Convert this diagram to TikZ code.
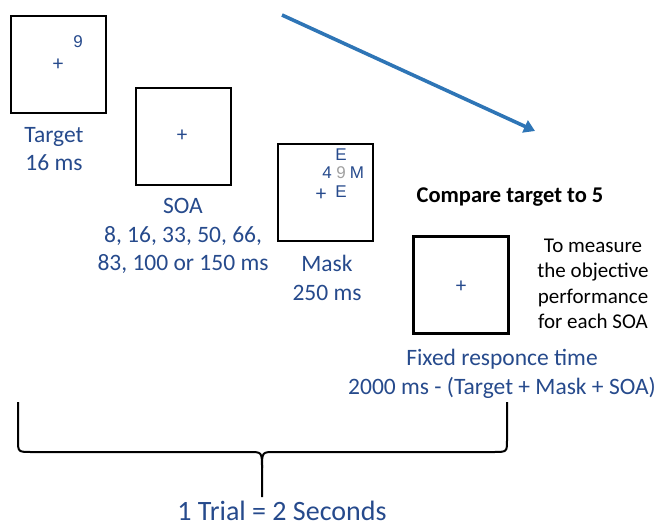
\documentclass[tikz,border=0pt]{standalone}
\usepackage{fontspec}
\setmainfont{Carlito}
\newfontfamily\arialfont{Liberation Sans}
\usetikzlibrary{arrows.meta}
\definecolor{txtblue}{RGB}{38,74,140}
\definecolor{arrblue}{RGB}{46,117,182}
\definecolor{ninegray}{RGB}{160,160,160}
\begin{document}
\begin{tikzpicture}[x=1pt,y=-1pt,
  screen/.style={draw=black,line width=2.4pt,minimum width=95pt,minimum height=97pt,inner sep=0pt},
  lbl/.style={text=txtblue,font=\fontsize{23.5}{28.5}\selectfont,align=center,inner sep=0pt},
  note/.style={text=black,font=\fontsize{21}{25.5}\selectfont,align=center,inner sep=0pt},
  fix/.style={text=txtblue,font=\fontsize{21}{21}\selectfont,inner sep=0pt},
  stim/.style={text=txtblue,font=\arialfont\fontsize{17}{17}\selectfont,inner sep=0pt}]
\useasboundingbox (0,0) rectangle (658,528);
% screens
\node[screen] (s1) at (58.5,64.5) {};
\node[screen] (s2) at (183.5,136.5) {};
\node[screen] (s3) at (325.5,192.5) {};
\node[screen] (s4) at (461,285) {};
% fixation crosses and stimuli
\node[fix] (p1) at (58,65) {+};
\node[stim] (n1) at (78,42) {9};
\node[fix] (p2) at (182,136) {+};
\node[fix] (p3) at (321,195) {+};
\node[stim] (e1) at (341,155) {E};
\node[stim] (d4) at (327,173) {4};
\node[stim,text=ninegray] (d9) at (341,173) {9};
\node[stim] (m1) at (357,173) {M};
\node[stim] (e2) at (341,192) {E};
\node[fix] (p4) at (461,287) {+};
% labels
\node[lbl] (l1) at (54,149) {Target\\16 ms};
\node[lbl] (l2) at (183,236) {SOA\\8, 16, 33, 50, 66,\\83, 100 or 150 ms};
\node[lbl] (l3) at (327,278) {Mask\\250 ms};
\node[lbl] (l4) at (502,374) {Fixed responce time\\2000 ms - (Target + Mask + SOA)};
\node[note,font=\bfseries\fontsize{22.5}{24}\selectfont] (cmp) at (510,197) {Compare target to 5};
\node[note] (meas) at (593,284) {To measure\\the objective\\performance\\for each SOA};
% time arrow
\coordinate (a0) at (282,15);
\coordinate (a1) at (535,131);
\draw[arrblue,line width=3.6pt,-{Triangle[length=11pt,width=13pt]}] (a0) -- (a1);
% brace
\coordinate (bl) at (18,402);
\coordinate (br) at (507,402);
\coordinate (bt) at (262,497);
\draw[black,line width=2pt,line join=round]
  (bl) -- (18,440) .. controls (18,452) .. (32,452) -- (249,452)
  .. controls (262,452) .. (262,468) -- (bt);
\draw[black,line width=2pt,line join=round]
  (br) -- (507,440) .. controls (507,452) .. (493,452) -- (275,452)
  .. controls (262,452) .. (262,468);
\node[lbl,font=\fontsize{28}{28}\selectfont] (trial) at (282,511) {1 Trial = 2 Seconds};
\end{tikzpicture}
\end{document}
